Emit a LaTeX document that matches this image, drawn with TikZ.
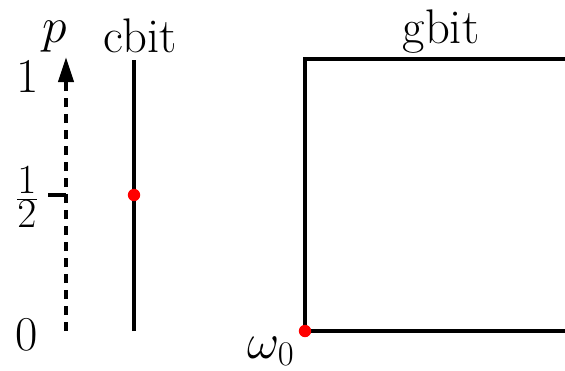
\documentclass[tikz,border=0pt]{standalone}
\usetikzlibrary{arrows.meta}
\begin{document}
\begin{tikzpicture}[x=0.5pt,y=-0.5pt,
  lbl/.style={font=\fontsize{24.3}{28}\selectfont, inner sep=0pt},
  fraclbl/.style={font=\fontsize{22}{26}\selectfont, inner sep=0pt},
  thickline/.style={line width=2pt},
  reddot/.style={circle, fill=red, minimum size=6.2pt, inner sep=0pt}]
\useasboundingbox (0,0) rectangle (565,370);
% p axis
\coordinate (pbot) at (66,331);
\coordinate (ptop) at (66,57);
\coordinate (phalf) at (66,195);
\coordinate (tickl) at (48,195);
\draw[thickline, dash pattern=on 4.5pt off 3.5pt, -{Triangle[length=12.5pt,width=7.5pt]}] (pbot) -- (ptop);
\draw[thickline] (tickl) -- (phalf);
\node[lbl, anchor=base] (p) at (55,42) {$p$};
\node[lbl, anchor=base] (one) at (28,92) {1};
\node[fraclbl] (half) at (27,197) {$\frac{\textstyle 1}{\textstyle 2}$};
\node[lbl, anchor=base] (zero) at (27,350) {0};
% cbit
\coordinate (cbot) at (134,331);
\coordinate (ctop) at (134,60);
\draw[thickline] (cbot) -- (ctop);
\node[reddot] (cdot) at (134,195) {};
\node[lbl, anchor=base] (cbit) at (140,52) {cbit};
% gbit
\coordinate (gtl) at (305,59);
\coordinate (gtr) at (566,59);
\coordinate (gbl) at (305,331);
\coordinate (gbr) at (566,331);
\draw[thickline] (gtr) -- (gtl) -- (gbl) -- (gbr);
\node[reddot] (gdot) at (gbl) {};
\node[lbl, anchor=base] (gbit) at (441,43) {gbit};
\node[lbl, anchor=base] (omega) at (271,358) {$\omega_0$};
\end{tikzpicture}
\end{document}
